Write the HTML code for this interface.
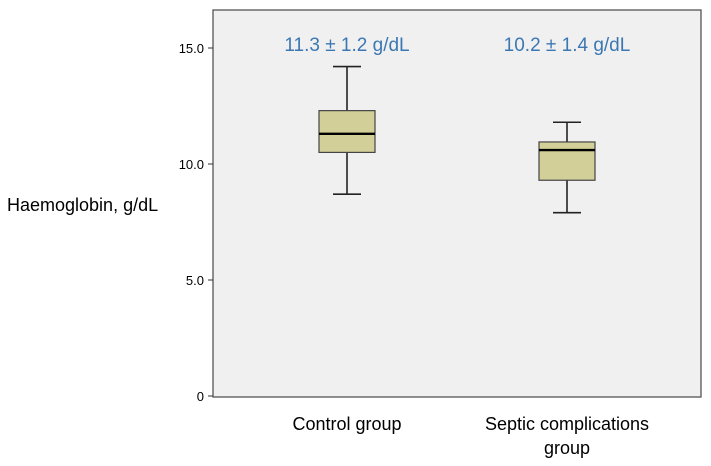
<!DOCTYPE html>
<html><head><meta charset="utf-8"><style>
body{margin:0;background:#fff;}
svg{display:block;font-family:"Liberation Sans",Arial,sans-serif;}
</style></head><body>
<svg id="chart" width="711" height="466">
<rect x="213" y="10" width="488" height="387" fill="#f0f0f0" stroke="#555" stroke-width="1.3"/>
<g id="yaxis"></g>
<g id="boxes"></g>
<text x="7" y="211" font-size="18" fill="#000">Haemoglobin, g/dL</text>
</svg>
<script>
const categories=[["Control group"],["Septic complications","group"]];
const centers=[347,567];
const mins=[8.7,7.9];
const q1s=[10.5,9.3];
const medians=[11.3,10.6];
const q3s=[12.3,10.95];
const maxs=[14.2,11.8];
const annotations=["11.3 ± 1.2 g/dL","10.2 ± 1.4 g/dL"];
const yTicks=[0,5,10,15];
const yTickLabels=["0","5.0","10.0","15.0"];
const NS="http://www.w3.org/2000/svg";
const y=v=>396-v*23.2;
function mk(tag,attrs,parent){const e=document.createElementNS(NS,tag);for(const k in attrs)e.setAttribute(k,attrs[k]);parent.appendChild(e);return e;}
const ya=document.getElementById('yaxis');
yTicks.forEach((t,i)=>{
 const l=mk('line',{x1:208,x2:213,y1:y(t),y2:y(t),stroke:'#333'},ya);
 
 
 const tx=mk('text',{x:204,y:y(t)+5,'text-anchor':'end','font-size':13},ya);
 tx.textContent=yTickLabels[i];
 
 
});
const bx=document.getElementById('boxes');
const svg=document.getElementById('chart');
categories.forEach((c,i)=>{
 const cx=centers[i];
 const g=mk('g',{},bx);
 
 
 mk('line',{x1:cx,x2:cx,y1:y(maxs[i]),y2:y(q3s[i]),stroke:'#222','stroke-width':1.6},g);
 mk('line',{x1:cx,x2:cx,y1:y(q1s[i]),y2:y(mins[i]),stroke:'#222','stroke-width':1.6},g);
 mk('line',{x1:cx-14,x2:cx+14,y1:y(maxs[i]),y2:y(maxs[i]),stroke:'#222','stroke-width':1.6},g);
 mk('line',{x1:cx-14,x2:cx+14,y1:y(mins[i]),y2:y(mins[i]),stroke:'#222','stroke-width':1.6},g);
 const r=mk('rect',{x:cx-28,width:56,y:y(q3s[i]),height:y(q1s[i])-y(q3s[i]),fill:'#d3cf98',stroke:'#444','stroke-width':1.2},g);
 
 
 const m=mk('line',{x1:cx-28,x2:cx+28,y1:y(medians[i]),y2:y(medians[i]),stroke:'#000','stroke-width':2.4},g);
 
 
 const a=mk('text',{x:cx,y:51,'text-anchor':'middle','font-size':19,fill:'#3b78b3'},g);
 a.textContent=annotations[i];
 
 
 c.forEach((line,j)=>{
  const t=mk('text',{x:cx,y:430+j*24,'text-anchor':'middle','font-size':18,fill:'#000'},svg);
  t.textContent=line;
  
  
 });
});
</script>
</body></html>
